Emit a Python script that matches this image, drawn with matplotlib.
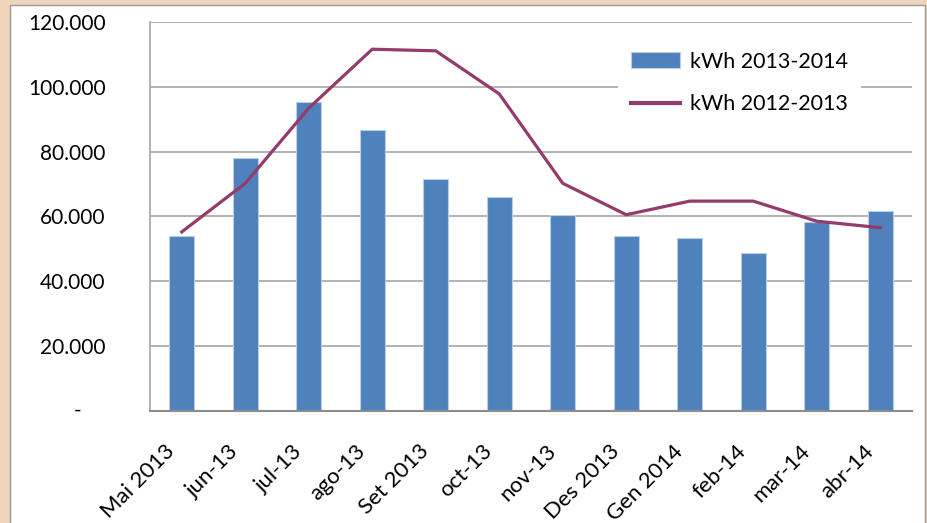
import matplotlib
matplotlib.use('Agg')
import matplotlib.pyplot as plt
from matplotlib.patches import Rectangle
from matplotlib.ticker import FuncFormatter
from matplotlib.transforms import ScaledTranslation

# ── data ──────────────────────────────────────────────────────────────────────
months = ['Mai 2013', 'jun-13', 'jul-13', 'ago-13', 'Set 2013', 'oct-13',
          'nov-13', 'Des 2013', 'Gen 2014', 'feb-14', 'mar-14', 'abr-14']
kwh_1314 = [53800, 77900, 95200, 86800, 71600, 66100,
            60500, 53800, 53200, 48700, 58300, 61600]
kwh_1213 = [55200, 70200, 93400, 111600, 111100, 97800,
            70200, 60500, 64700, 64700, 58500, 56500]
yticks = [0, 20000, 40000, 60000, 80000, 100000, 120000]

# ── colours ───────────────────────────────────────────────────────────────────
C_BAR  = '#4F81BD'
C_LINE = '#943B6C'
C_GRID = '#A6A6A6'
C_TAN  = '#EFD5BC'

plt.rcParams['font.family'] = ['Lato', 'DejaVu Sans']

W, H = 928, 523
fig = plt.figure(figsize=(W / 100, H / 100), dpi=100)
fig.patch.set_facecolor(C_TAN)

# white chart area with thin grey border
fig.patches.append(Rectangle((10 / W, -0.01), 915 / W, 518 / H + 0.01,
                             transform=fig.transFigure, facecolor='white',
                             edgecolor='#9A9A9A', lw=1.0, zorder=-5))

ax = fig.add_axes([150 / W, 1 - 410.7 / H, 762 / W, 388.7 / H])
ax.set_facecolor('none')
ax.set_zorder(2)

x = list(range(len(months)))
bars = ax.bar(x, kwh_1314, width=0.4, color=C_BAR, edgecolor='#B9CDE5',
              linewidth=0.8, label='kWh 2013-2014', zorder=2)
line, = ax.plot(x, kwh_1213, color=C_LINE, lw=2.3, label='kWh 2012-2013',
                solid_joinstyle='miter', zorder=3)

ax.set_xlim(-0.5, len(months) - 0.5)
ax.set_ylim(0, 120000)
ax.set_yticks(yticks)
ax.yaxis.set_major_formatter(FuncFormatter(
    lambda v, p: '' if v == 0 else f'{int(v):,}'.replace(',', '.')))
ax.grid(axis='y', color=C_GRID, lw=1.2, zorder=0)
ax.set_axisbelow(True)

for s in ['top', 'right']:
    ax.spines[s].set_visible(False)
ax.spines['left'].set_color(C_GRID)
ax.spines['left'].set_linewidth(1.2)
ax.spines['bottom'].set_color('#8C8C8C')
ax.spines['bottom'].set_linewidth(1.5)

ax.tick_params(axis='y', length=0, pad=32, labelsize=15, colors='black')
ax.tick_params(axis='x', length=0, pad=27, labelsize=16, colors='black')
ax.set_xticks(x)
ax.set_xticklabels(months)
off = ScaledTranslation(-0.10, 0, fig.dpi_scale_trans)
for lbl in ax.get_xticklabels():
    lbl.set_rotation(45)
    lbl.set_ha('right')
    lbl.set_va('center')
    lbl.set_rotation_mode('anchor')
    lbl.set_transform(lbl.get_transform() + off)

# zero label shown as a dash
ax.text(-72 / 762, 0, '-', transform=ax.get_yaxis_transform(),
        fontsize=15, ha='center', va='center')

leg = ax.legend([bars, line], ['kWh 2013-2014', 'kWh 2012-2013'],
                loc='upper left', bbox_to_anchor=(0.6, 0.985), fontsize=15.5,
                frameon=True, framealpha=1, edgecolor='none',
                handlelength=2.3, handleheight=0.7, labelspacing=1.05,
                borderpad=0.6, handletextpad=0.45)
leg.get_frame().set_linewidth(0)
leg.get_lines()[0].set_linewidth(3)

fig.savefig('out.png', dpi=100, facecolor=C_TAN)
